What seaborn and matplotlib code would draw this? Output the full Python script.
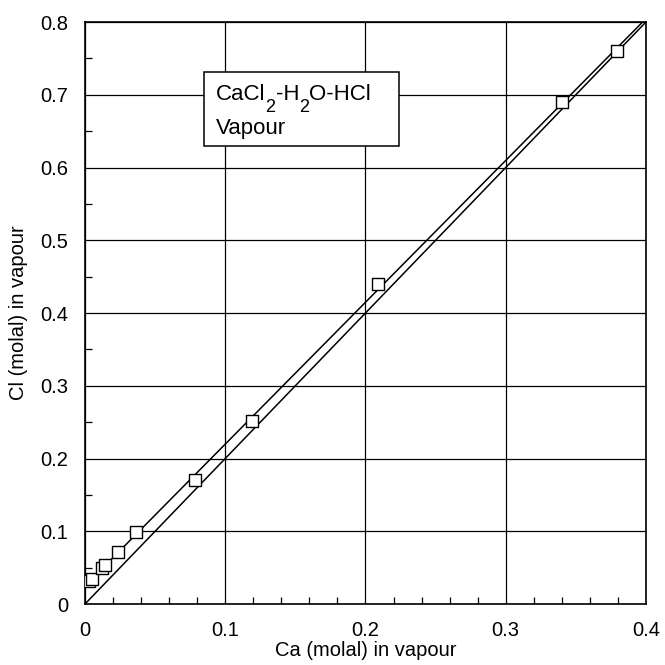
import numpy as np
import pandas as pd
import matplotlib
matplotlib.use("Agg")
import matplotlib.pyplot as plt
import seaborn as sns
from matplotlib.ticker import MultipleLocator
from matplotlib.patches import Rectangle

ca = [0.003, 0.0048, 0.012, 0.0143, 0.0237, 0.0364, 0.0785, 0.119, 0.209, 0.340, 0.379]
cl = [0.031, 0.034, 0.049, 0.054, 0.071, 0.099, 0.171, 0.252, 0.440, 0.690, 0.760]
x_ticks = [0, 0.1, 0.2, 0.3, 0.4]
y_ticks = [0, 0.1, 0.2, 0.3, 0.4, 0.5, 0.6, 0.7, 0.8]
x_labels = ["0", "0.1", "0.2", "0.3", "0.4"]
y_labels = ["0", "0.1", "0.2", "0.3", "0.4", "0.5", "0.6", "0.7", "0.8"]
title_parts = [("CaCl", 0), ("2", -1), ("-H", 0), ("2", -1), ("O-HCl", 0)]

sns.set_theme(style="white")
plt.rcParams['font.family'] = ['Liberation Sans', 'DejaVu Sans']

df = pd.DataFrame({"ca": ca, "cl": cl})

fig = plt.figure(figsize=(6.65, 6.65), dpi=100)
ax = fig.add_axes([0.1278, 0.0917, 0.8436, 0.8752])

# 1:2 reference line
ref = pd.DataFrame({"x": [0.0, 0.4], "y": [0.0, 0.8]})
sns.lineplot(data=ref, x="x", y="y", ax=ax, color="black", lw=1.1)

# fitted line
slope, icpt = np.polyfit(ca, cl, 1)
xf = np.array([0.0, 0.4])
fit = pd.DataFrame({"x": xf, "y": icpt + slope * xf})
sns.lineplot(data=fit, x="x", y="y", ax=ax, color="black", lw=1.1)

sns.scatterplot(data=df, x="ca", y="cl", ax=ax, marker="s", s=75,
                facecolor="white", edgecolor="black", linewidth=1.0, zorder=5)

ax.set_xlim(0, 0.4)
ax.set_ylim(0, 0.8)
ax.set_xticks(x_ticks)
ax.set_xticklabels(x_labels)
ax.set_yticks(y_ticks)
ax.set_yticklabels(y_labels)
ax.xaxis.set_minor_locator(MultipleLocator(0.02))
ax.yaxis.set_minor_locator(MultipleLocator(0.05))
ax.tick_params(which="both", direction="in", colors="black", labelsize=14.5)
ax.tick_params(which="major", length=0)
ax.tick_params(axis="x", which="major", pad=12)
ax.tick_params(axis="y", which="major", pad=12)
ax.tick_params(which="minor", length=5, width=0.9, bottom=True, left=True)
ax.grid(True, which="major", color="black", lw=0.9)
for s in ax.spines.values():
    s.set_color("black")
    s.set_linewidth(1.2)

ax.set_xlabel("Ca (molal) in vapour", fontsize=14.5, color="black", labelpad=1)
ax.set_ylabel("Cl (molal) in vapour", fontsize=14.5, color="black", labelpad=9)

ax.add_patch(Rectangle((0.0848, 0.6296), 0.1391, 0.1017, facecolor="white",
                       edgecolor="black", lw=1.1, zorder=6))

renderer = fig.canvas.get_renderer()
x0, y0 = 0.0935, 0.6925
dx = 0.0
for s, sub in title_parts:
    fs = 13 if sub else 16
    dy = -8.5 if sub else 0
    t = ax.annotate(s, xy=(x0, y0), xycoords="data", xytext=(dx, dy),
                    textcoords="offset points", fontsize=fs, color="black",
                    va="baseline", ha="left", zorder=7)
    w = t.get_window_extent(renderer).width
    dx += w * 72.0 / fig.dpi
ax.text(x0, 0.6455, "Vapour", fontsize=16, color="black",
        va="baseline", ha="left", zorder=7)

fig.savefig("out.png", dpi=100)
